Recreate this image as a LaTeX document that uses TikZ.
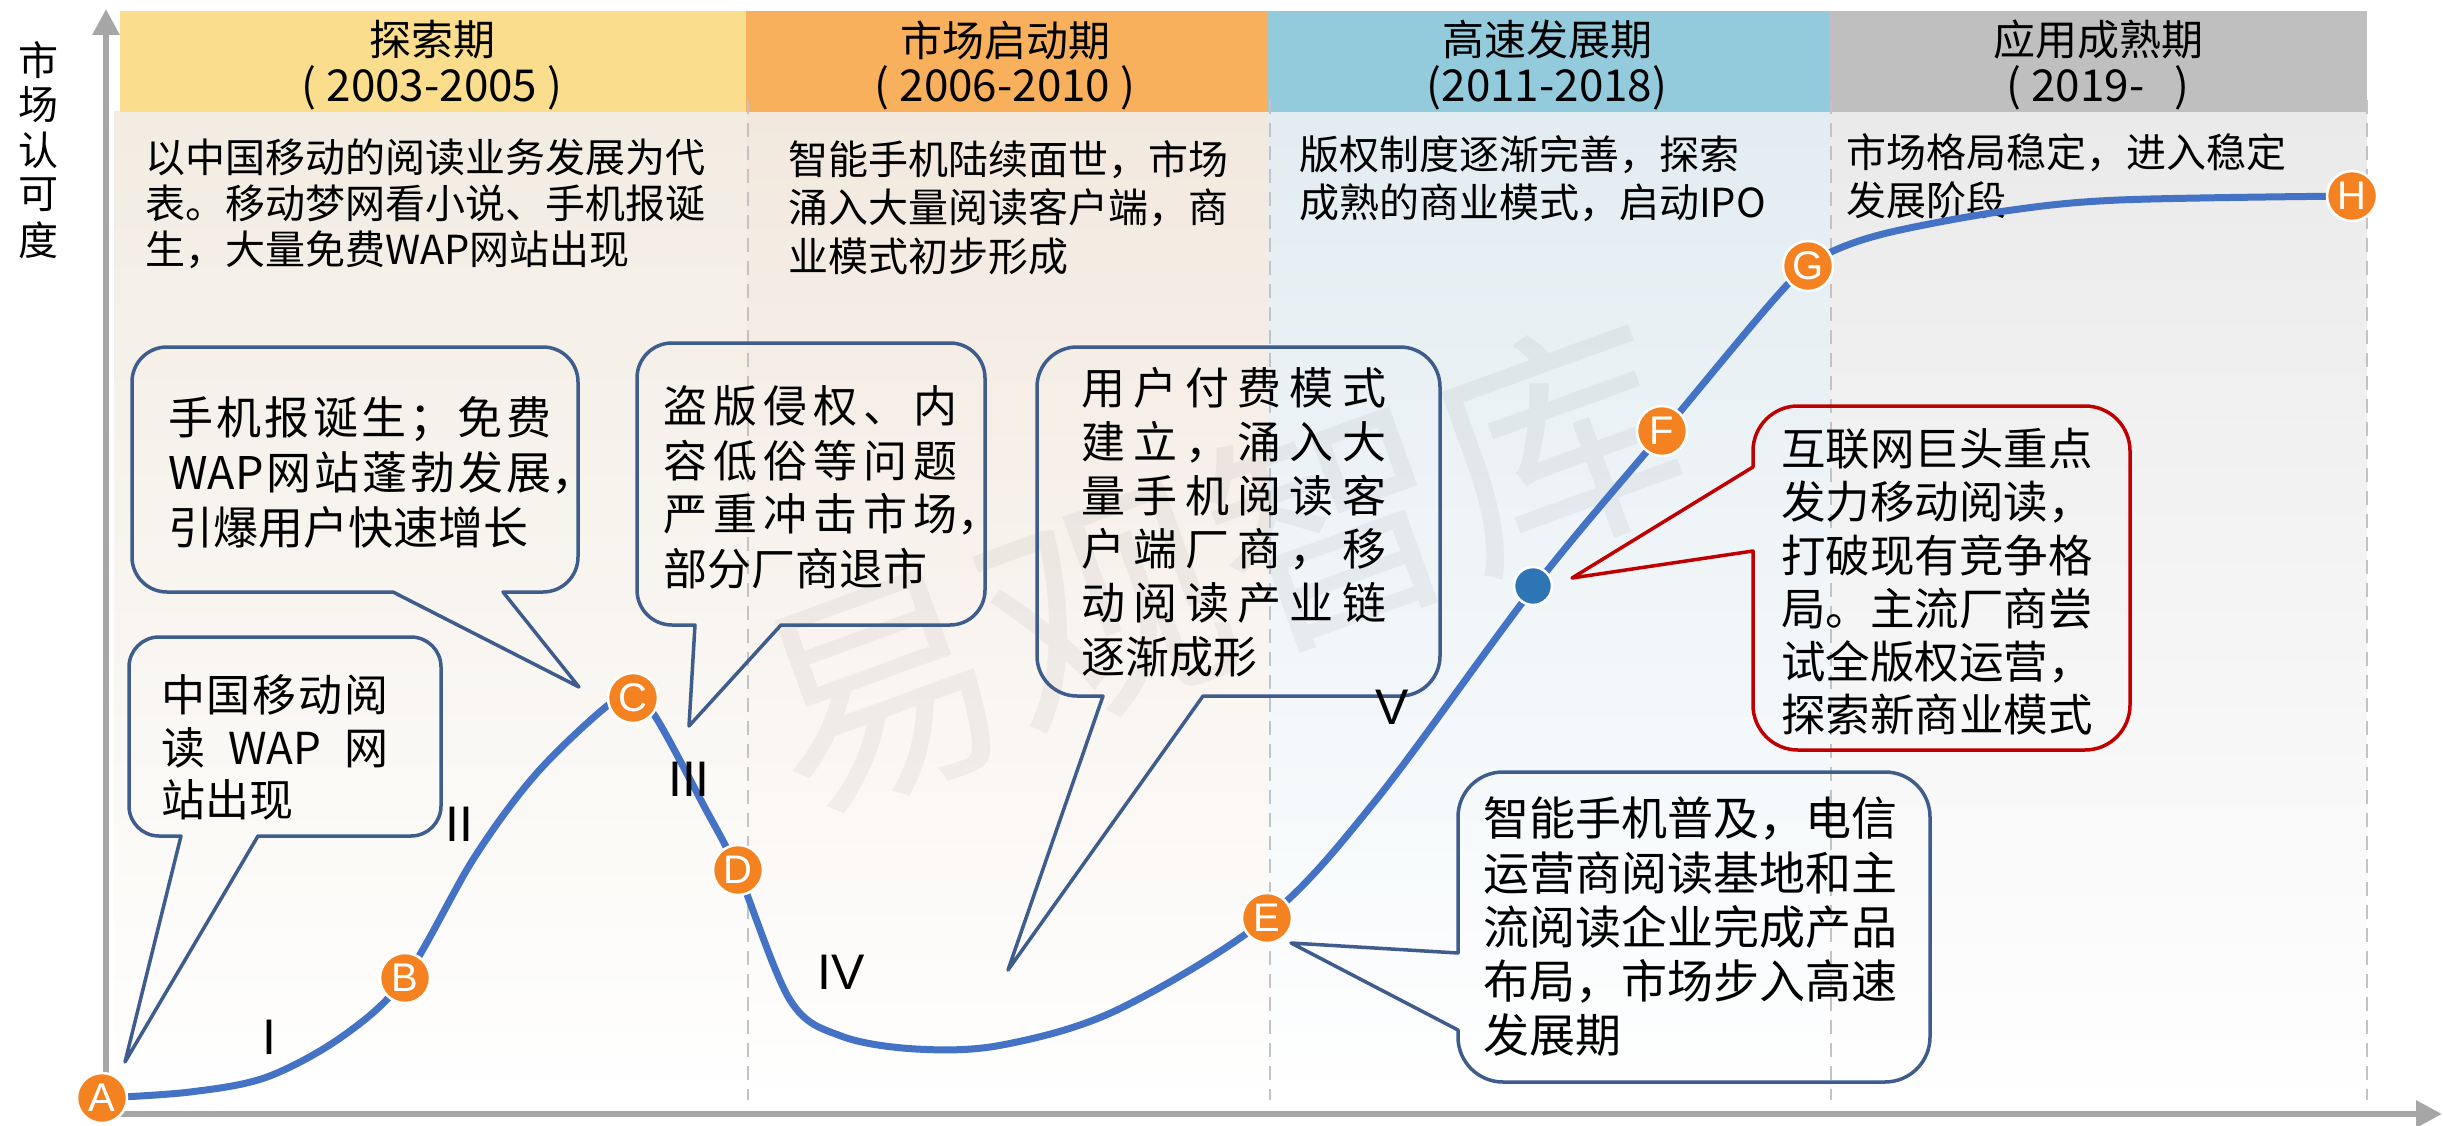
\documentclass[tikz,border=0pt]{standalone}
\usepackage{fontspec}
\setmainfont{Noto Sans CJK SC}
\newfontfamily\lsans{Liberation Sans}
\usetikzlibrary{arrows.meta}
\definecolor{hdA}{RGB}{250,222,142}
\definecolor{hdB}{RGB}{249,176,92}
\definecolor{hdC}{RGB}{147,203,221}
\definecolor{hdD}{RGB}{191,191,191}
\definecolor{bgA}{RGB}{242,236,226}
\definecolor{bgB}{RGB}{242,232,222}
\definecolor{bgC}{RGB}{226,236,241}
\definecolor{bgD}{RGB}{234,234,234}
\definecolor{axisgray}{RGB}{166,166,166}
\definecolor{dashgray}{RGB}{195,195,195}
\definecolor{curveblue}{RGB}{68,114,196}
\definecolor{callblue}{RGB}{62,92,140}
\definecolor{callred}{RGB}{192,0,0}
\definecolor{mkorange}{RGB}{245,130,32}
\definecolor{dotblue}{RGB}{46,117,182}
\newcommand\fsz[1]{\fontsize{#1}{#1}\selectfont}
\makeatletter
\def\jst@a#1#2{#1\ifx\relax#2\expandafter\@gobble\else\hfil\expandafter\jst@a\fi{#2}}
\newcommand\jline[2]{\makebox[#1][s]{\jst@a#2\relax}}
\makeatother
% bubble with tail on bottom edge: style, x1, ytop, x2, ybot, R, base1, base2, tip
\newcommand\bubB[9]{%
  \pgfmathsetmacro\kk{0.448*#6}%
  \draw[#1] (#7,#5) -- ({#2+#6},#5) .. controls ({#2+\kk},#5) and (#2,{#5-\kk}) .. (#2,{#5-#6})
   -- (#2,{#3+#6}) .. controls (#2,{#3+\kk}) and ({#2+\kk},#3) .. ({#2+#6},#3)
   -- ({#4-#6},#3) .. controls ({#4-\kk},#3) and (#4,{#3+\kk}) .. (#4,{#3+#6})
   -- (#4,{#5-#6}) .. controls (#4,{#5-\kk}) and ({#4-\kk},#5) .. ({#4-#6},#5)
   -- (#8,#5) -- (#9) -- cycle;}
% bubble with tail on left edge: style, x1, ytop, x2, ybot, R, upper base y, lower base y, tip
\newcommand\bubL[9]{%
  \pgfmathsetmacro\kk{0.448*#6}%
  \draw[#1] (#2,#7) -- (#2,{#3+#6}) .. controls (#2,{#3+\kk}) and ({#2+\kk},#3) .. ({#2+#6},#3)
   -- ({#4-#6},#3) .. controls ({#4-\kk},#3) and (#4,{#3+\kk}) .. (#4,{#3+#6})
   -- (#4,{#5-#6}) .. controls (#4,{#5-\kk}) and ({#4-\kk},#5) .. ({#4-#6},#5)
   -- ({#2+#6},#5) .. controls ({#2+\kk},#5) and (#2,{#5-\kk}) .. (#2,{#5-#6})
   -- (#2,#8) -- (#9) -- cycle;}
\begin{document}
\begin{tikzpicture}[x=1pt,y=-1pt,
  txt/.style={inner sep=0pt, anchor=west, text=black},
  hdtxt/.style={inner sep=0pt, text=black},
  callout/.style={draw=callblue, line width=3.5pt, line join=round},
  calloutred/.style={draw=callred, line width=3.5pt, line join=round},
  axisline/.style={draw=axisgray, line width=6pt, -{Triangle[length=26pt,width=26pt]}},
  dsh/.style={draw=dashgray, line width=2.5pt, dash pattern=on 14pt off 9pt},
  curveline/.style={draw=curveblue, line width=7pt, line cap=round},
  mk/.style={circle, fill=mkorange, draw=white, line width=2.5pt, minimum size=50pt, inner sep=0pt, text=white, font=\lsans\fsz{40}},
  rn/.style={inner sep=0pt, text=black, font=\lsans\fsz{50}}]
\useasboundingbox (0,0) rectangle (2443,1126);
\fill[white] (0,0) rectangle (2443,1126);
% panel backgrounds
\shade[top color=bgA, bottom color=white] (114,112) rectangle (746,1110);
\shade[top color=bgB, bottom color=white] (746,112) rectangle (1268,1110);
\shade[top color=bgC, bottom color=white] (1268,112) rectangle (1830,1110);
\shade[top color=bgD, bottom color=white] (1830,112) rectangle (2367,1110);
% headers
\fill[hdA] (120,11) rectangle (746,112);
\fill[hdB] (746,11) rectangle (1268,112);
\fill[hdC] (1268,11) rectangle (1830,112);
\fill[hdD] (1830,11) rectangle (2367,112);
% watermark
\node[font=\fsz{240}, text=black, text opacity=0.045, rotate=20, inner sep=0pt] (wm) at (1218,566) {易观智库};
% dashed separators
\foreach \xx in {748,1270,1831,2367} \draw[dsh] (\xx,100) -- (\xx,1100);
% header texts
\node[hdtxt, font=\fsz{42}] (h1t) at (432,40) {探索期};
\node[hdtxt, font=\fsz{44}] (h1y) at (432,88) {( 2003-2005 )};
\node[hdtxt, font=\fsz{42}] (h2t) at (1005,40) {市场启动期};
\node[hdtxt, font=\fsz{44}] (h2y) at (1005,88) {( 2006-2010 )};
\node[hdtxt, font=\fsz{42}] (h3t) at (1547,40) {高速发展期};
\node[hdtxt, font=\fsz{44}] (h3y) at (1547,88) {(2011-2018)};
\node[hdtxt, font=\fsz{42}] (h4t) at (2098,40) {应用成熟期};
\node[hdtxt, font=\fsz{44}] (h4y) at (2098,88) {( 2019-\hspace{30pt})};
% panel descriptions
\foreach \t [count=\i from 0] in {以中国移动的阅读业务发展为代, 表。移动梦网看小说、手机报诞, 生，大量免费WAP网站出现}
  \node[txt, font=\fsz{40}, name=pa\i] at (145,{157+\i*46.5}) {\t};
\foreach \t [count=\i from 0] in {智能手机陆续面世，市场, 涌入大量阅读客户端，商, 业模式初步形成}
  \node[txt, font=\fsz{40}, name=pb\i] at (788,{160+\i*48}) {\t};
\foreach \t [count=\i from 0] in {版权制度逐渐完善，探索, 成熟的商业模式，启动IPO}
  \node[txt, font=\fsz{40}, name=pc\i] at (1299,{155+\i*48}) {\t};
\foreach \t [count=\i from 0] in {市场格局稳定，进入稳定, 发展阶段}
  \node[txt, font=\fsz{40}, name=pd\i] at (1846,{153+\i*47}) {\t};
% y axis label
\foreach \c [count=\i from 0] in {市,场,认,可,度}
  \node[hdtxt, font=\fsz{40}, name=yl\i] at (38,{60+\i*45}) {\c};
% axes
\coordinate (O) at (106,1114);
\coordinate (ytip) at (106,9);
\coordinate (xtip) at (2442,1114);
\draw[axisline] (O) -- (ytip);
\draw[axisline] (O) -- (xtip);
% curve
\draw[curveline] plot[smooth, tension=0.55] coordinates {(102,1098) (190,1092) (267,1077) (343,1036) (405,978) (474,858) (536,774) (607,706) (633,697) (655,716) (704,806) (738,872) (790,1000) (841,1036) (916,1049) (1002,1045) (1117,1010) (1267,918) (1376,800) (1535,586) (1664,431) (1770,304) (1808,266) (1845,246) (1900,230) (2005,211) (2119,200) (2352,196)};
% callouts
\coordinate (tip1) at (125,1062);
\bubB{callout}{129}{637}{441}{836}{30}{181}{258}{tip1}
\coordinate (tip2) at (579,687);
\bubB{callout}{132}{347}{578}{592}{35}{393}{503}{tip2}
\coordinate (tip3) at (689,726);
\bubB{callout}{637}{343}{985}{625}{35}{695}{781}{tip3}
\coordinate (tip4) at (1008,970);
\bubB{callout}{1037}{347}{1440}{696}{40}{1103}{1203}{tip4}
\coordinate (tip5) at (1291,943);
\bubL{callout}{1458}{772}{1930}{1082}{45}{953}{1030}{tip5}
\coordinate (tip6) at (1572,578);
\bubL{calloutred}{1753}{406}{2130}{750}{45}{467}{551}{tip6}
% callout texts
\foreach \t [count=\i from 0] in {\jline{227pt}{中国移动阅}, \jline{227pt}{{读}{WAP}{网}}, 站出现}
  \node[txt, font=\fsz{44}, name=ca\i] at (161,{695+\i*52.5}) {\t};
\foreach \t [count=\i from 0] in {\jline{383pt}{手机报诞生；免费}, \jline{383pt}{{WAP}网站蓬勃发展}，, 引爆用户快速增长}
  \node[txt, font=\fsz{45}, name=cb\i] at (168,{419+\i*54}) {\t};
\foreach \t [count=\i from 0] in {\jline{294pt}{盗版侵权、内}, \jline{294pt}{容低俗等问题}, \jline{294pt}{严重冲击市场}，, 部分厂商退市}
  \node[txt, font=\fsz{44}, name=cc\i] at (663,{406+\i*54.3}) {\t};
\foreach \t [count=\i from 0] in {\jline{305pt}{用户付费模式}, \jline{305pt}{建立，涌入大}, \jline{305pt}{量手机阅读客}, \jline{305pt}{户端厂商，移}, \jline{305pt}{动阅读产业链}, 逐渐成形}
  \node[txt, font=\fsz{44}, name=cd\i] at (1081,{388+\i*53.8}) {\t};
\foreach \t [count=\i from 0] in {智能手机普及，电信, 运营商阅读基地和主, 流阅读企业完成产品, 布局，市场步入高速, 发展期}
  \node[txt, font=\fsz{46}, name=ce\i] at (1483,{819+\i*54}) {\t};
\foreach \t [count=\i from 0] in {互联网巨头重点, 发力移动阅读，, 打破现有竞争格, 局。主流厂商尝, 试全版权运营，, 探索新商业模式}
  \node[txt, font=\fsz{44.5}, name=cf\i] at (1781,{449+\i*53.2}) {\t};
% roman numerals
\node[rn] (r1) at (269,1037) {I};
\node[rn] (r2) at (459,824) {II};
\node[rn] (r3) at (689,779) {III};
\node[rn] (r4) at (841,972) {IV};
\node[rn] (r5) at (1392,707) {V};
% markers
\node[mk] (mA) at (102,1098) {A};
\node[mk] (mB) at (405,978) {B};
\node[mk] (mC) at (633,698) {C};
\node[mk] (mD) at (738,870) {D};
\node[mk] (mE) at (1267,918) {E};
\node[mk] (mF) at (1662,431) {F};
\node[mk] (mG) at (1808,266) {G};
\node[mk] (mH) at (2352,196) {H};
\node[circle, fill=dotblue, draw=white, line width=2.5pt, minimum size=38pt, inner sep=0pt] (dot) at (1533,586) {};
\end{tikzpicture}
\end{document}
